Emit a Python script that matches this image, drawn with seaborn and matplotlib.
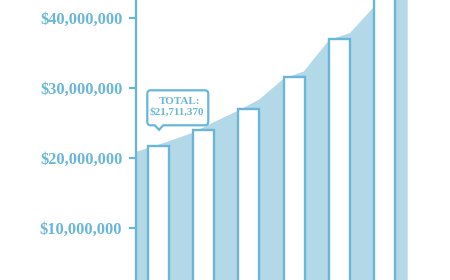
import matplotlib
matplotlib.use("Agg")
import numpy as np
import pandas as pd
import seaborn as sns
import matplotlib.pyplot as plt
from matplotlib.path import Path
from matplotlib.patches import PathPatch
from matplotlib.transforms import IdentityTransform

# ---- data ----
periods = ["P1", "P2", "P3", "P4", "P5", "P6"]
bar_values = [21711370, 24000000, 27100000, 31600000, 37000000, 43800000]

area_x = [-0.5, 0.21, 0.77, 1.25, 1.76, 2.23, 2.77, 3.21, 3.77, 4.23, 4.78, 5.5]
area_values = [20.9e6, 22.37e6, 23.66e6, 25.23e6, 26.8e6, 28.4e6,
               31.4e6, 32.4e6, 36.9e6, 37.9e6, 41.8e6, 46.0e6]

tick_values = [10e6, 20e6, 30e6, 40e6]
tick_labels = ["$10,000,000", "$20,000,000", "$30,000,000", "$40,000,000"]

callout_lines = ["TOTAL:", "$21,711,370"]

BLUE = "#6ab6d8"
FILL = "#b3d8e8"
FONT = "Liberation Serif"

sns.set_style("white")
plt.rcParams["font.family"] = [FONT, "DejaVu Serif"]

W, H = 450, 280
fig = plt.figure(figsize=(W / 100, H / 100), dpi=100)
left_px = 136.2
ax = fig.add_axes([left_px / W, 0, 1 - left_px / W, 1])

ax.fill_between(area_x, area_values, 0, color=FILL, lw=0, zorder=1)

df = pd.DataFrame({"period": periods, "value": bar_values})
sns.barplot(data=df, x="period", y="value", color="white", saturation=1,
            edgecolor=BLUE, linewidth=1.7, width=0.463, ax=ax, zorder=2)

ax.set_xlim(-0.487, 6.434)
ax.set_ylim(2.61e6, 42.61e6)

for s in ["top", "right", "bottom"]:
    ax.spines[s].set_visible(False)
ax.spines["left"].set_color(BLUE)
ax.spines["left"].set_linewidth(1.7)
ax.spines["left"].set_zorder(3)

ax.set_xlabel("")
ax.set_ylabel("")
ax.set_xticks([])
ax.set_yticks(tick_values)
ax.set_yticklabels(tick_labels, fontfamily=FONT, fontweight="bold", fontsize=11.8)
ax.tick_params(axis="y", length=5, width=1.6, color=BLUE, labelcolor=BLUE,
               pad=5, direction="out", left=True)

# ---- callout ----
ax0, ay0 = ax.transData.transform((0, bar_values[0]))
L, R, B, T, r = ax0 - 11, ax0 + 50, ay0 + 21, ay0 + 56, 3.5
px0, px1, tipx, tipy = ax0 - 3.5, ax0 + 5, ax0 + 0.8, ay0 + 16.5
verts = [
    (L + r, B), (px0, B), (tipx, tipy), (px1, B), (R - r, B),
    (R, B), (R, B + r),
    (R, T - r),
    (R, T), (R - r, T),
    (L + r, T),
    (L, T), (L, T - r),
    (L, B + r),
    (L, B), (L + r, B),
    (L + r, B),
]
codes = [Path.MOVETO, Path.LINETO, Path.LINETO, Path.LINETO, Path.LINETO,
         Path.CURVE3, Path.CURVE3,
         Path.LINETO,
         Path.CURVE3, Path.CURVE3,
         Path.LINETO,
         Path.CURVE3, Path.CURVE3,
         Path.LINETO,
         Path.CURVE3, Path.CURVE3,
         Path.CLOSEPOLY]
patch = PathPatch(Path(verts, codes), facecolor="white", edgecolor=BLUE,
                  linewidth=1.6, transform=IdentityTransform(), zorder=5,
                  clip_on=False)
ax.add_artist(patch)

ax.annotate(callout_lines[0], xy=(0, bar_values[0]), xycoords="data",
            xytext=(21, 45), textcoords="offset pixels", ha="center", va="center",
            fontfamily=FONT, fontweight="bold", fontsize=8.0, color=BLUE,
            zorder=6, annotation_clip=False)
ax.annotate(callout_lines[1], xy=(0, bar_values[0]), xycoords="data",
            xytext=(19, 34), textcoords="offset pixels", ha="center", va="center",
            fontfamily=FONT, fontweight="bold", fontsize=8.0, color=BLUE,
            zorder=6, annotation_clip=False)

fig.savefig("out.png", dpi=100)
